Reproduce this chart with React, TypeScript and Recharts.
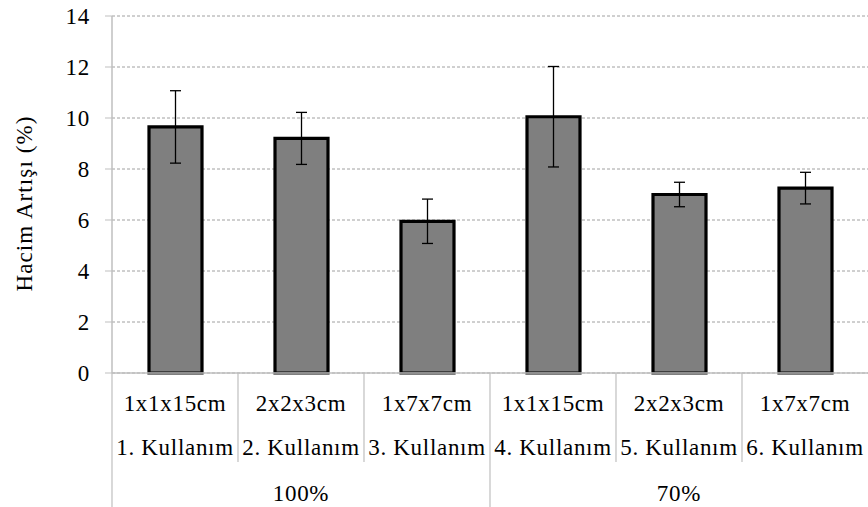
import React from "react";
import { Bar, BarChart, CartesianGrid, ErrorBar, Label, XAxis, YAxis } from "recharts";

const sizes = ["1x1x15cm", "2x2x3cm", "1x7x7cm", "1x1x15cm", "2x2x3cm", "1x7x7cm"];
const uses = ["1. Kullanım", "2. Kullanım", "3. Kullanım", "4. Kullanım", "5. Kullanım", "6. Kullanım"];
const groups = ["100%", "100%", "100%", "70%", "70%", "70%"];
const values = [9.65, 9.2, 5.95, 10.05, 7.0, 7.25];
const errors = [1.42, 1.02, 0.87, 1.97, 0.48, 0.62];
const yTicks = [0, 2, 4, 6, 8, 10, 12, 14];

const data = uses.map((u, i) => ({ use: u, size: sizes[i], group: groups[i], value: values[i], err: errors[i] }));

const W = 868, H = 507;
const LEFT = 112, XAXIS_H = 134;
const CAT_W = (W - LEFT) / data.length;
const FONT = "'Liberation Serif', Tinos, 'Times New Roman', Times, 'DejaVu Serif', 'Noto Serif', serif";
const AXIS = "#bfbfbf";
const txt = { fontFamily: FONT, fontSize: 23, letterSpacing: 0.7 };

function CatTick(props: any) {
  const { x, y, payload } = props;
  const i = payload.index;
  const left = x - CAT_W / 2;
  const d = data[i];
  // group label sits under the middle category of each group
  const first = i === 0 || groups[i] !== groups[i - 1];
  const n = groups.filter(g => g === d.group).length;
  const showGroup = i === groups.indexOf(d.group) + Math.floor(n / 2);
  return (
    <g>
      <line x1={left} x2={left} y1={y} y2={first ? y + XAXIS_H : y + 89} stroke={AXIS} strokeWidth={1.2} />
      <text x={x} y={y + 38} textAnchor="middle" fill="#000" style={txt}>{d.size}</text>
      <text x={x} y={y + 82} textAnchor="middle" fill="#000" style={txt}>{d.use}</text>
      {showGroup && <text x={x} y={y + 128} textAnchor="middle" fill="#000" style={txt}>{d.group}</text>}
    </g>
  );
}

export default function App() {
  return (
    <div style={{ position: "absolute", left: 0, top: 0, background: "#fff", fontFamily: FONT }}>
      <BarChart width={W} height={H} data={data} margin={{ top: 16, right: 0, left: 0, bottom: 0 }} barSize={53}
        style={{ fontFamily: FONT }}>
        <CartesianGrid vertical={false} stroke="#a0a0a0" strokeDasharray="3 2" />
        <XAxis dataKey="use" height={XAXIS_H} tickLine={false} tickSize={0} tickMargin={0} interval={0}
          axisLine={{ stroke: AXIS, strokeWidth: 1.5 }} tick={<CatTick />} />
        <YAxis width={LEFT} domain={[0, 14]} ticks={yTicks} interval={0}
          axisLine={{ stroke: AXIS, strokeWidth: 1.5 }} tickLine={{ stroke: AXIS }} tickSize={7} tickMargin={15}
          tick={{ style: txt, fill: "#000" }}>
          <Label content={({ viewBox }: any) => {
            const cy = viewBox.y + viewBox.height / 2 + 9;
            return (
              <text x={24} y={cy} transform={`rotate(-90 24 ${cy})`} textAnchor="middle" dominantBaseline="central"
                fill="#000" style={{ fontFamily: FONT, fontSize: 23, letterSpacing: 1.1 }}>
                Hacim Artışı (%)
              </text>
            );
          }} />
        </YAxis>
        <Bar dataKey="value" fill="#7f7f7f" stroke="#000" strokeWidth={3.2} isAnimationActive={false}>
          <ErrorBar dataKey="err" width={5.5} stroke="#000" strokeWidth={1.3} />
        </Bar>
      </BarChart>
    </div>
  );
}
